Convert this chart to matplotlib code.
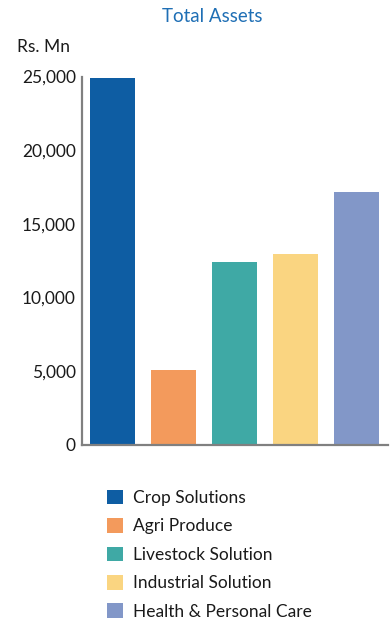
import matplotlib
matplotlib.use("Agg")
import matplotlib.pyplot as plt
from matplotlib.ticker import FuncFormatter

# segment totals, Rs. Mn
segments = ["Crop Solutions", "Agri Produce", "Livestock Solution",
            "Industrial Solution", "Health & Personal Care"]
assets = [24900, 5050, 12400, 12950, 17150]
colors = ["#0E5DA3", "#F39A5C", "#3FA9A5", "#FAD581", "#8297C8"]
yticks = [0, 5000, 10000, 15000, 20000, 25000]

plt.rcParams["font.family"] = ["Lato", "DejaVu Sans"]

W, H = 390, 619
fig = plt.figure(figsize=(W / 100, H / 100), dpi=100)
ax = fig.add_axes([82 / W, (H - 444.5) / H, (388 - 82) / W, (444.5 - 76.5) / H])

bars = ax.bar(range(len(assets)), assets, width=0.74, color=colors)

ax.set_xlim(-0.5, 4.52)
ax.set_ylim(0, 25000)
ax.set_yticks(yticks)
ax.yaxis.set_major_formatter(FuncFormatter(lambda v, p: f"{int(v):,}"))
ax.set_xticks([])
ax.tick_params(axis="y", length=0, pad=4.5, labelsize=12.5, labelcolor="#1a1a1a")

for side in ["top", "right"]:
    ax.spines[side].set_visible(False)
for side in ["left", "bottom"]:
    ax.spines[side].set_color("#808080")
    ax.spines[side].set_linewidth(1.6)
    ax.spines[side].set_zorder(5)

fig.text(212 / W, 1 - 16 / H, "Total Assets", ha="center", va="center",
         fontsize=13.5, color="#1F6FB5")
fig.text(17 / W, 1 - 47 / H, "Rs. Mn", ha="left", va="center",
         fontsize=12.5, color="#1a1a1a")

fig.legend(bars, segments, loc="upper left", bbox_to_anchor=(98 / W, 1 - 481 / H),
           frameon=False, fontsize=12.5, handlelength=0.92, handleheight=0.92,
           handletextpad=0.6, labelspacing=0.7, borderpad=0,
           labelcolor="#1a1a1a")

fig.savefig("out.png", dpi=100)
